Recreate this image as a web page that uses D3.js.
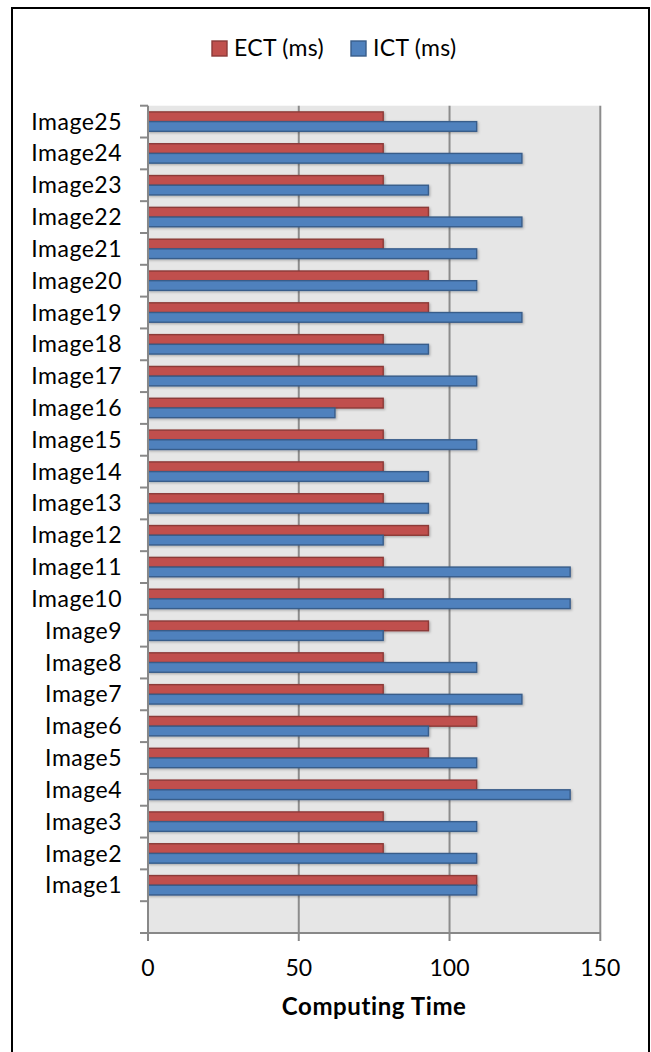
<!DOCTYPE html>
<html><head><meta charset="utf-8">
<script src="https://cdn.jsdelivr.net/npm/d3@7"></script>
<style>body{margin:0;background:#fff} svg{display:block}</style>
</head><body><svg id="c" width="651" height="1052"></svg>
<script>
const categories = ["", "Image1","Image2","Image3","Image4","Image5","Image6","Image7","Image8","Image9","Image10","Image11","Image12","Image13","Image14","Image15","Image16","Image17","Image18","Image19","Image20","Image21","Image22","Image23","Image24","Image25"];
const ectValues = [null, 109,78,78,109,93,109,78,78,93,78,78,93,78,78,78,78,78,78,93,93,78,93,78,78,78];
const ictValues = [null, 109,109,109,140,109,93,124,109,78,140,140,78,93,93,109,62,109,93,124,109,109,124,93,124,109];
const seriesNames = ["ECT (ms)", "ICT (ms)"];
const xTicks = [0, 50, 100, 150];
const axisTitle = "Computing Time";

const FONT = "Lato, 'Open Sans', sans-serif";
const svg = d3.select("#c");
const colors = {"ECT (ms)": "#C0504D", "ICT (ms)": "#4F81BD"};
const strokes = {"ECT (ms)": "#8C3A38", "ICT (ms)": "#385D8A"};

const defs = svg.append("defs");
const f = defs.append("filter").attr("id","sh").attr("x","-5%").attr("y","-30%").attr("width","110%").attr("height","170%");
f.append("feDropShadow").attr("dx",1.2).attr("dy",1.2).attr("stdDeviation",0.8).attr("flood-color","#000").attr("flood-opacity",0.25);

const plot = {left:148, right:600.3, top:105.7, bottom:933};
const x = d3.scaleLinear().domain([0,150]).range([plot.left, plot.right]);
const y = d3.scaleBand().domain(categories.slice().reverse()).range([plot.top, plot.bottom]);
const sub = d3.scaleBand().domain(seriesNames).range([0, y.bandwidth()]).paddingInner(0).paddingOuter(0.64);

// outer border
svg.append("rect").attr("x",12).attr("y",8).attr("width",637).attr("height",1070)
  .attr("fill","none").attr("stroke","#000").attr("stroke-width",2);

// plot bg
svg.append("rect").attr("x",plot.left).attr("y",plot.top).attr("width",plot.right-plot.left).attr("height",plot.bottom-plot.top).attr("fill","#E6E6E6");

// gridlines
svg.append("g").selectAll("line").data(xTicks.filter(d=>d>0)).join("line")
  .attr("x1",d=>x(d)).attr("x2",d=>x(d)).attr("y1",plot.top).attr("y2",plot.bottom)
  .attr("stroke","#8C8C8C").attr("stroke-width",2);

// bars
const rows = categories.map((c,i)=>({c, vals:[{s:seriesNames[0], v:ectValues[i]},{s:seriesNames[1], v:ictValues[i]}]}));
const g = svg.append("g");
rows.forEach(r=>{
  g.selectAll(null).data(r.vals.filter(d=>d.v!=null)).join("rect")
    .attr("x", x(0)).attr("y", d=>y(r.c)+sub(d.s))
    .attr("width", d=>x(d.v)-x(0)).attr("height", sub.bandwidth())
    .attr("fill", d=>colors[d.s]).attr("stroke", d=>strokes[d.s]).attr("stroke-width",1.4)
    .attr("filter","url(#sh)");
});

const axisColor = "#888888";
// y axis line + ticks
const ya = svg.append("g");
ya.append("line").attr("x1",plot.left).attr("x2",plot.left).attr("y1",plot.top).attr("y2",plot.bottom+8).attr("stroke",axisColor).attr("stroke-width",2);
const tickYs = categories.map(c=>y(c)).concat([plot.bottom]);
ya.selectAll("line.t").data(tickYs).join("line").attr("class","t")
  .attr("x1",plot.left-8).attr("x2",plot.left).attr("y1",d=>d).attr("y2",d=>d).attr("stroke",axisColor).attr("stroke-width",2);
ya.selectAll("text").data(categories.filter(c=>c!=="")).join("text")
  .attr("x",122).attr("y",d=>y(d)+y.bandwidth()/2).attr("dy","0.35em")
  .attr("text-anchor","end").attr("font-family",FONT).attr("font-size",23).attr("letter-spacing",0.5).attr("fill","#000").text(d=>d);

// x axis
const xa = svg.append("g");
xa.append("line").attr("x1",plot.left-8).attr("x2",plot.right).attr("y1",plot.bottom).attr("y2",plot.bottom).attr("stroke",axisColor).attr("stroke-width",2);
xa.selectAll("line.t").data(xTicks).join("line").attr("class","t")
  .attr("x1",d=>x(d)).attr("x2",d=>x(d)).attr("y1",plot.bottom).attr("y2",plot.bottom+8).attr("stroke",axisColor).attr("stroke-width",2);
xa.selectAll("text").data(xTicks).join("text")
  .attr("x",d=>x(d)).attr("y",976).attr("text-anchor","middle")
  .attr("font-family",FONT).attr("font-size",23).attr("fill","#000").text(d=>d);

svg.append("text").attr("x",(plot.left+plot.right)/2).attr("y",1015).attr("text-anchor","middle")
  .attr("font-family",FONT).attr("font-size",24).attr("letter-spacing",0.6).attr("font-weight","bold").attr("fill","#000").text(axisTitle);

// legend
const legX = [212, 351];
const lg = svg.append("g");
seriesNames.forEach((s,i)=>{
  lg.append("rect").attr("x",legX[i]).attr("y",41).attr("width",15).attr("height",15)
    .attr("fill",colors[s]).attr("stroke",strokes[s]).attr("stroke-width",1.4);
  lg.append("text").attr("x",legX[i]+22).attr("y",56).attr("font-family",FONT).attr("font-size",23).attr("letter-spacing",0.3).attr("fill","#000").text(s);
});
</script></body></html>
